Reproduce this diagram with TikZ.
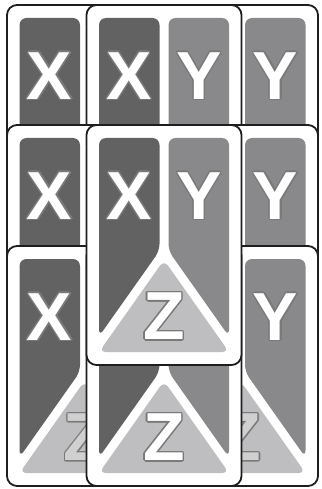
\documentclass[tikz,border=0pt]{standalone}
\usepackage{fontspec}
\setmainfont{Liberation Sans}
\usepackage{contour}
\contourlength{1.3pt}
\contournumber{16}
\definecolor{cx}{HTML}{626262}
\definecolor{cy}{HTML}{89898C}
\definecolor{cz}{HTML}{BEBEC1}
\definecolor{cline}{HTML}{1E1E1E}
\definecolor{lline}{HTML}{7A7A7A}
\newcommand\lett[1]{\contour{lline}{#1}}
\tikzset{
  letter/.style={inner sep=0pt, text=white, font=\bfseries\fontsize{68}{68}\selectfont},
  cardframe/.style={fill=white, draw=cline, line width=1.8pt, rounded corners=10pt},
  pics/card/.style={code={
    \path[cardframe] (0,0) rectangle (155,240);
    \fill[cx, rounded corners=7pt] (12.5,13) -- (73,13) -- (73,125.8) -- (12.5,211.4) -- cycle;
    \fill[cy, rounded corners=7pt] (82,13) -- (142.5,13) -- (142.5,211.4) -- (82,125.8) -- cycle;
    \fill[cz, rounded corners=7pt] (77.5,135) -- (142.5,227) -- (12.5,227) -- cycle;
    \node[letter] (-x) at (42.5,71.5) {\lett{X}};
    \node[letter] (-y) at (112.5,71.5) {\lett{Y}};
    \node[letter, opacity=#1] (-z) at (77.5,192) {\lett{Z}};
  }}
}
\begin{document}
\begin{tikzpicture}[x=1pt,y=-1pt]
\useasboundingbox (0,0) rectangle (321,489);
\pic (c11) at (7,5) {card=1};
\pic (c13) at (163,5) {card=1};
\pic (c12) at (86.5,5) {card=1};
\pic (c21) at (7,125) {card=1};
\pic (c23) at (163,125) {card=1};
\pic (c31) at (7,246) {card=0.65};
\pic (c33) at (163,246) {card=0.65};
\pic (c32) at (86.5,246) {card=1};
\pic (c22) at (86.5,125) {card=1};
\end{tikzpicture}
\end{document}
